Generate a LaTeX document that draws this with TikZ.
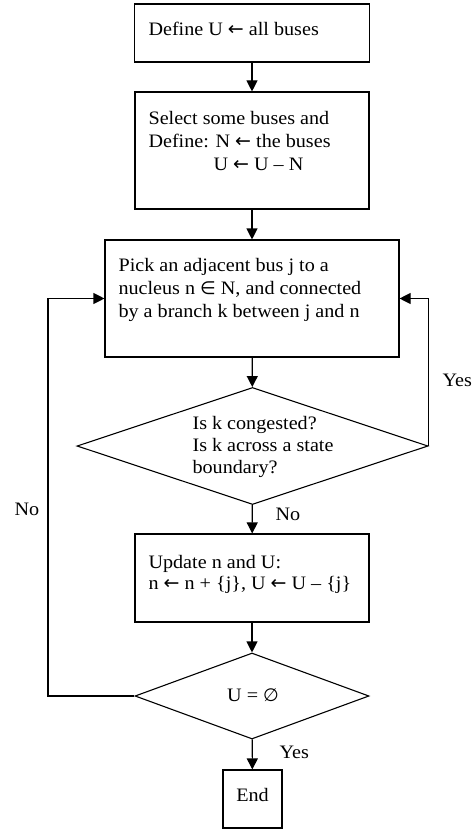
\documentclass[tikz,border=0pt]{standalone}
\usepackage{fontspec}
\setmainfont{Liberation Serif}[FakeStretch=1.06]
\newfontfamily\symfnt{DejaVu Sans}
\usetikzlibrary{arrows.meta,shapes.geometric}
\newcommand{\la}{{\symfnt\fontsize{19}{19}\selectfont ←}}
\newcommand{\elem}{{\symfnt\fontsize{18}{18}\selectfont ∈}}
\newcommand{\emptyst}{{\symfnt\fontsize{18}{18}\selectfont ∅}}
\begin{document}
\begin{tikzpicture}[x=1pt,y=-1pt, line width=1.1pt,
  box/.style={draw, rectangle, inner sep=0pt},
  dia/.style={draw, diamond, inner sep=0pt},
  txt/.style={anchor=base west, align=left, inner sep=0pt},
  lbl/.style={anchor=base west, inner sep=0pt, font=\fontsize{19}{22}\selectfont},
  arr/.style={-{Triangle[width=11pt,length=11pt]}}]
\useasboundingbox (0,0) rectangle (475,829);
% shapes
\node[box, minimum width=235pt, minimum height=58pt] (b1) at (252,33) {};
\node[box, minimum width=234pt, minimum height=117pt] (b2) at (252,150.5) {};
\node[box, minimum width=294pt, minimum height=117pt] (b3) at (252,298.5) {};
\node[dia, minimum width=351pt, minimum height=117pt] (d1) at (252.5,446) {};
\node[box, minimum width=234pt, minimum height=88pt] (b4) at (252,578) {};
\node[dia, minimum width=234pt, minimum height=86pt] (d2) at (252,696) {};
\node[box, minimum width=59pt, minimum height=58pt] (e) at (252.5,799) {};
% texts (base anchor = baseline of last line)
\node[txt, font=\fontsize{19}{23}\selectfont] (t1) at (148,36) {Define U \la{} all buses};
\node[txt, font=\fontsize{19}{23}\selectfont] (t2) at (148,170.3) {Select some buses and\\Define: N \la{} the buses\\\hspace{65pt}U \la{} U – N};
\node[txt, font=\fontsize{19}{23}\selectfont] (t3) at (118,317.7) {Pick an adjacent bus j to a\\nucleus n \elem{} N, and connected\\by a branch k between j and n};
\node[txt, font=\fontsize{19}{22}\selectfont] (t4) at (192,473.3) {Is k congested?\\Is k across a state\\boundary?};
\node[txt, font=\fontsize{19}{21}\selectfont] (t5) at (148,589.3) {Update n and U:\\n \la{} n + \{j\}, U \la{} U – \{j\}};
\node[lbl, anchor=base] (t6) at (253,701.7) {U = \emptyst};
\node[lbl, anchor=base] (t7) at (252.5,801.7) {End};
% labels
\node[lbl] (yes1) at (442,386) {Yes};
\node[lbl] (no1) at (14,515.7) {No};
\node[lbl] (no2) at (275,520.3) {No};
\node[lbl] (yes2) at (279,758) {Yes};
% connectors
\coordinate (lc) at (48,696);
\draw[arr] (b1) -- (b2);
\draw[arr] (b2) -- (b3);
\draw[arr] (b3) -- (d1);
\draw[arr] (d1) -- (b4);
\draw[arr] (b4) -- (d2);
\draw[arr] (d2) -- (e);
\draw[arr] (d1.east) |- (b3.east);
\draw[arr] (d2.west) -- (lc) |- (b3.west);
\end{tikzpicture}
\end{document}
